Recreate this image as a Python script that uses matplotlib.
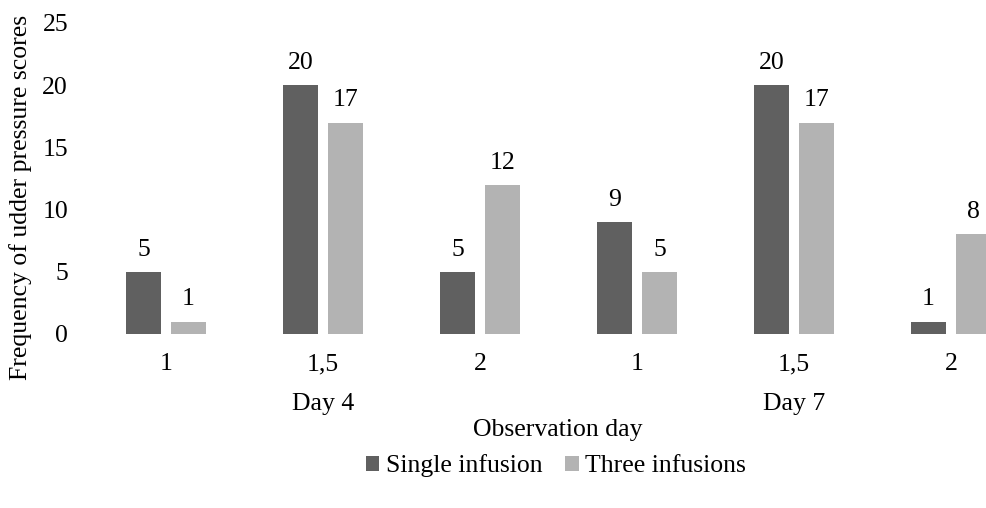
import matplotlib.pyplot as plt
import matplotlib.transforms as mtransforms
import numpy as np

plt.rcParams['font.family'] = ['Liberation Serif', 'DejaVu Serif']

scores = ["1", "1,5", "2", "1", "1,5", "2"]
days = ["Day 4", "Day 7"]
single = [5, 20, 5, 9, 20, 1]
three = [1, 17, 12, 5, 17, 8]

dark = "#606060"
light = "#b3b3b3"
fs = 18.5

W, H = 987, 508
fig = plt.figure(figsize=(W / 100, H / 100), dpi=100)
# plot area: left edge of first category at x=87.5px, y from 334px (0) to 23px (25)
step = 157.0
left_px = 87.5
ax = fig.add_axes([left_px / W, (H - 334) / H, 1 - left_px / W, (334 - 23) / H])

x = np.arange(len(scores))
bw = 35 / step
gap = 10 / step
b1 = ax.bar(x - (bw + gap) / 2, single, bw, color=dark, label="Single infusion")
b2 = ax.bar(x + (bw + gap) / 2, three, bw, color=light, label="Three infusions")

for bars in (b1, b2):
    for b in bars:
        ax.annotate(str(int(b.get_height())), (b.get_x() + b.get_width() / 2, b.get_height()),
                    xytext=(0, 8), textcoords="offset points", ha="center", va="bottom",
                    fontsize=fs)

ax.set_xlim(-0.5, (W - left_px) / step - 0.5)
ax.set_ylim(0, 25)
ax.set_yticks(range(0, 26, 5))
ax.set_xticks(x)
ax.set_xticklabels(scores)
ax.tick_params(axis="both", length=0, labelsize=fs)
ax.tick_params(axis="y", pad=14)
ax.tick_params(axis="x", pad=14)
for s in ax.spines.values():
    s.set_visible(False)

# day group labels
trans = mtransforms.blended_transform_factory(ax.transData, fig.transFigure)
for i, d in enumerate(days):
    ax.text(1 + 3 * i, 1 - 404 / H, d, transform=trans, ha="center",
            va="center", fontsize=fs)

# axis centre of the full (cropped) category range
fig.text(558 / W, 1 - 430 / H, "Observation day", ha="center", va="center", fontsize=fs)
fig.text(21 / W, 1 - 197 / H, "Frequency of udder pressure scores", rotation=90,
         ha="center", va="center", fontsize=fs)

fig.legend(handles=[b1, b2], loc="center", bbox_to_anchor=(556 / W, 1 - 466 / H), ncol=2,
           frameon=False, fontsize=fs, handlelength=0.52, handleheight=0.52,
           handletextpad=0.25, columnspacing=0.9)

fig.savefig("out.png", dpi=100)
